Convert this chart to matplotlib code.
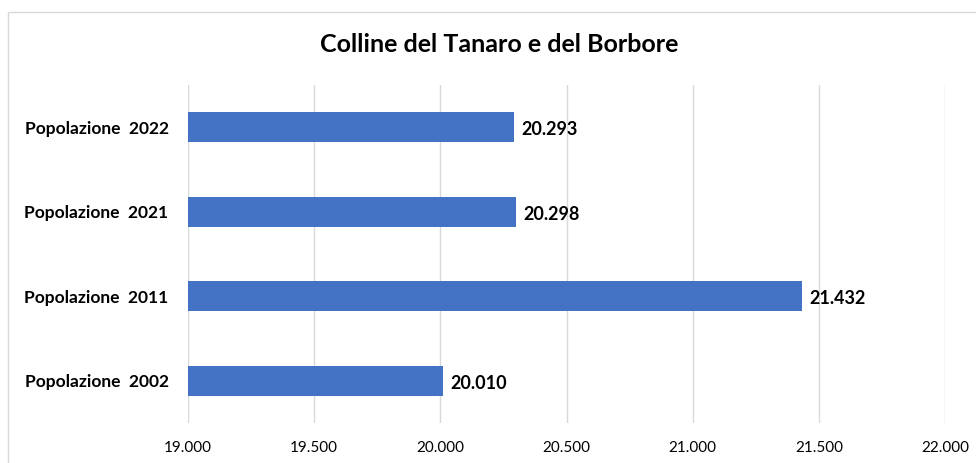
import numpy as np
import matplotlib.pyplot as plt
from matplotlib.patches import Rectangle
from matplotlib.ticker import FuncFormatter

plt.rcParams['font.family'] = ['Lato', 'DejaVu Sans']

# ---Data
labels = ['Popolazione  2002', 'Popolazione  2011', 'Popolazione  2021', 'Popolazione  2022']
values = [20010, 21432, 20298, 20293]
xticks = [19000, 19500, 20000, 20500, 21000, 21500, 22000]


def it_fmt(v):
    return '{:,.0f}'.format(v).replace(',', '.')


fig = plt.figure(figsize=(9.76, 4.63), dpi=100)
ax = fig.add_axes([188 / 976, 1 - 423 / 463, (945 - 188) / 976, (423 - 85) / 463])

# ---Outer chart frame (cropped on right and bottom)
fig.patches.append(Rectangle((7.5 / 976, -0.2), 1.2, 1.2 - 12 / 463,
                             transform=fig.transFigure, fill=False,
                             edgecolor='#d9d9d9', linewidth=1.0))

y = np.arange(len(labels))
ax.barh(y, np.array(values) - 19000, left=19000, height=0.35, color='#4472C4', zorder=3)
for yi, v in zip(y, values):
    ax.text(v + 30, yi - 0.03, it_fmt(v), va='center', ha='left',
            fontsize=13, fontweight='bold', color='black')

ax.set_xlim(19000, 22000)
ax.set_ylim(-0.5, len(labels) - 0.5)
ax.set_xticks(xticks)
ax.xaxis.set_major_formatter(FuncFormatter(lambda v, p: it_fmt(v)))
ax.set_yticks(y)
ax.set_yticklabels(labels, fontweight='bold')
ax.tick_params(axis='x', length=0, pad=13, labelsize=11)
ax.tick_params(axis='y', length=0, pad=14, labelsize=12.5)
ax.grid(axis='x', color='#d9d9d9', linewidth=1.0, zorder=0)
for s in ax.spines.values():
    s.set_visible(False)

fig.text(499 / 976, 1 - 45 / 463, 'Colline del Tanaro e del Borbore', ha='center', va='center',
         fontsize=18, fontweight='bold')

fig.savefig('out.png', dpi=100)
